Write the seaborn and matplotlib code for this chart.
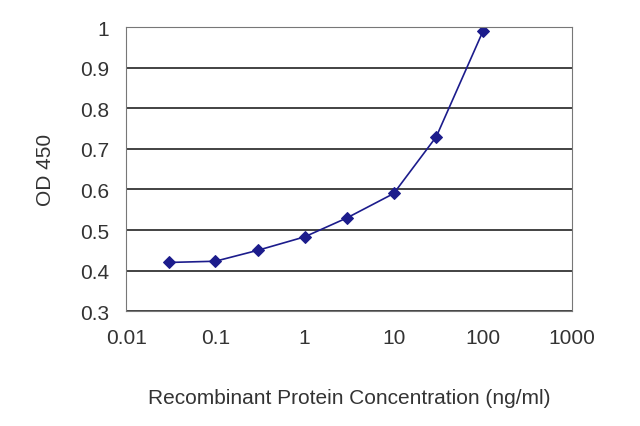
import matplotlib
matplotlib.use("Agg")
import matplotlib.pyplot as plt
import seaborn as sns
import pandas as pd

plt.rcParams["font.family"] = "Liberation Sans"

conc = [0.03, 0.1, 0.3, 1, 3, 10, 30, 100]
od = [0.42, 0.423, 0.45, 0.483, 0.53, 0.59, 0.73, 0.99]
xticks = [0.01, 0.1, 1, 10, 100, 1000]
xlabels = ["0.01", "0.1", "1", "10", "100", "1000"]
yticks = [0.3, 0.4, 0.5, 0.6, 0.7, 0.8, 0.9, 1.0]
ylabels = ["0.3", "0.4", "0.5", "0.6", "0.7", "0.8", "0.9", "1"]

df = pd.DataFrame({"conc": conc, "od": od})
fig = plt.figure(figsize=(6.4, 4.27), dpi=100)
ax = fig.add_axes([0.197, 0.269, 0.697, 0.665])
col = "#1c1c8c"
sns.lineplot(data=df, x="conc", y="od", ax=ax, color=col, lw=1.2, marker="D",
             markersize=6, markeredgecolor=col, markerfacecolor=col)
ax.set_xscale("log")
ax.set_xlim(0.01, 1000)
ax.set_ylim(0.3, 1.0)
ax.set_xticks(xticks)
ax.set_xticklabels(xlabels)
ax.set_yticks(yticks)
ax.set_yticklabels(ylabels)
ax.minorticks_off()
ax.grid(axis="y", color="#222222", lw=1.2)
ax.set_axisbelow(True)
for s in ax.spines.values():
    s.set_color("#777777")
ax.tick_params(labelsize=15, colors="#333333", length=0, pad=12)
ax.set_xlabel("Recombinant Protein Concentration (ng/ml)", fontsize=15, color="#333333", labelpad=30)
ax.set_ylabel("OD 450", fontsize=15, color="#333333", labelpad=18)
fig.savefig("out.png", dpi=100)
